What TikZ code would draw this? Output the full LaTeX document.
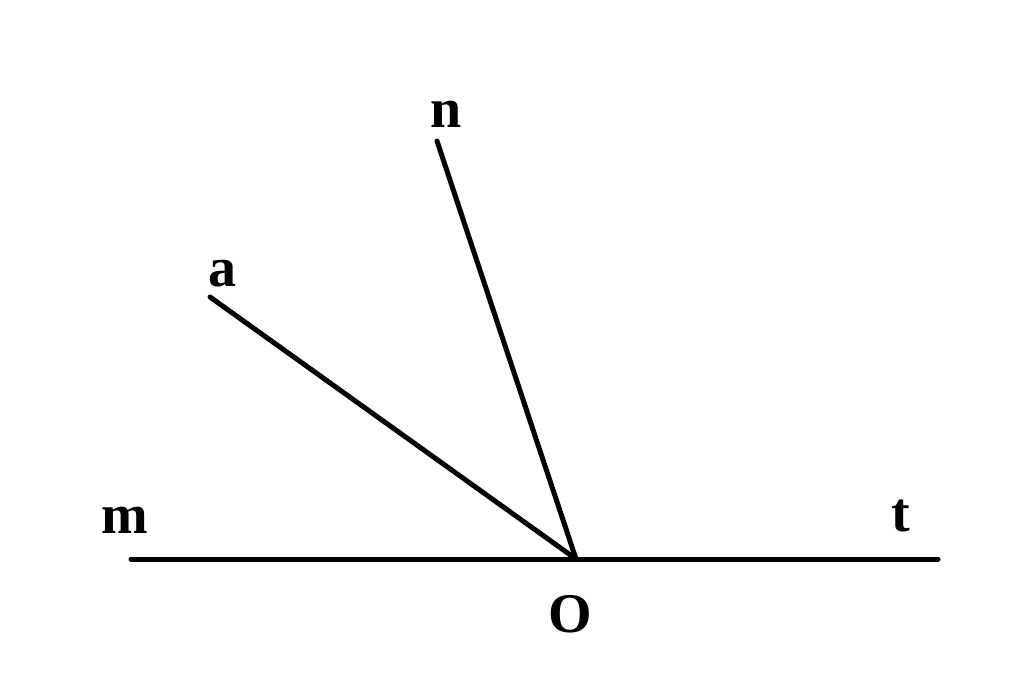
\documentclass[tikz,border=0pt]{standalone}
\usepackage{fontspec}
\setmainfont{Liberation Serif}
\begin{document}
\begin{tikzpicture}[x=1pt,y=1pt,
  ray/.style={line width=5pt,line cap=round},
  lbl/.style={font=\fontsize{56}{60}\selectfont\bfseries,inner sep=0pt}]
\useasboundingbox (0,0) rectangle (1024,694);
\coordinate (O) at (576,135);
\coordinate (M) at (131,135);
\coordinate (T) at (938,135);
\coordinate (A) at (210,397);
\coordinate (N) at (437,553);
\draw[ray] (M) -- (T);
\draw[ray] (O) -- (A);
\draw[ray] (O) -- (N);
\node[lbl] (ln) at (446,580) {n};
\node[lbl] (la) at (222,420) {a};
\node[lbl] (lm) at (125,174) {m};
\node[lbl] (lt) at (901,178) {t};
\node[lbl] (lo) at (570,80) {O};
\end{tikzpicture}
\end{document}
